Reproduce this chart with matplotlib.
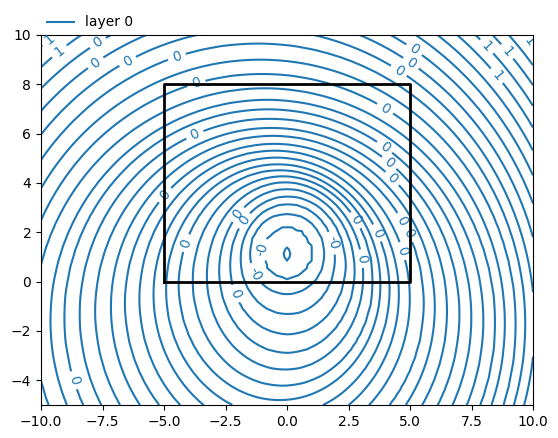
import numpy as np
import matplotlib
matplotlib.use('Agg')
import matplotlib.pyplot as plt

# position of the well (centre of the contour rings)
well_x = 0.0
well_y = 1.13

# distance from the well to each contour line
# along four directions. index 0 is the small loop at the well itself
radii_up = [0.26, 1.10, 1.64, 2.02, 2.33, 2.63, 2.90, 3.14, 3.38, 3.61, 3.88,
            4.16, 4.43, 4.76, 5.07, 5.44, 5.82, 6.20, 6.66, 7.24, 7.81, 8.46]
radii_down = [0.28, 1.03, 1.64, 2.46, 3.27, 4.02, 4.70, 5.35, 5.92]
radii_right = [0.12, 1.07, 1.54, 1.95, 2.36, 2.70, 3.01, 3.37, 3.64, 3.98, 4.32,
               4.73, 5.27, 5.68, 6.15, 6.63, 7.10, 7.57, 8.05, 8.46, 8.93, 9.34, 9.74]
radii_left = [0.12, 1.03, 1.54, 1.88, 2.29, 2.70, 3.17, 3.71, 4.25, 4.73, 5.20,
              5.74, 6.29, 6.83, 7.44, 8.05, 8.66, 9.20, 9.88]

# head value of each contour line
nlev = 36
dlev = 0.025
levels = np.round(-0.1 + dlev * np.arange(nlev), 3) + 0.0

# where the contour labels sit
label_x = [-9.63, -9.23, -7.68, -7.80, -6.46, -4.47, -3.66, -3.82, -4.84, -4.15,
           -2.03, -1.63, -0.98, -1.22, -2.32, -8.94, 5.24, 8.05, 9.11, 9.80,
           5.04, 4.43, 8.46, 4.02, 4.02, 4.23, 4.39, 2.89, 4.84, 3.58, 4.76,
           1.67, 4.72, 3.21]
label_y = [9.80, 9.31, 9.67, 8.90, 8.90, 9.10, 7.97, 6.13, 3.41, 1.58,
           2.76, 2.39, 1.29, 0.36, -0.58, -4.08, 9.51, 9.47, 9.47, 9.72,
           8.86, 8.37, 8.29, 7.07, 5.52, 4.91, 4.30, 2.55, 2.55, 1.94, 1.86,
           1.53, 1.25, 0.96]

# outline of the inhomogeneity
box_x = [-5, 5, 5, -5, -5]
box_y = [0, 0, 8, 8, 0]


def extend(r):
    # carry a profile on past the edge of the plot with its last spacing
    r = np.asarray(r, float)
    step = np.mean(np.diff(r[-4:]))
    return np.concatenate([r, r[-1] + step * np.arange(1, nlev - len(r) + 1)])


ru, rd, rr, rl = extend(radii_up), extend(radii_down), extend(radii_right), extend(radii_left)

# every contour is taken as an ellipse through its four measured points
cx = (rr - rl) / 2
cy = (ru - rd) / 2
ah = (rr + rl) / 2
bv = (ru + rd) / 2
det = ah ** 2 * bv ** 2 - cy ** 2 * cx ** 2
A = (bv ** 2 - cy ** 2) / det
B = (ah ** 2 - cx ** 2) / det

# evaluation grid over the plot window
x = np.linspace(-10, 10, 101)
y = np.linspace(-5, 10, 101)
X, Y = np.meshgrid(x, y)
dx = (X - well_x)[..., None] - cx
dy = (Y - well_y)[..., None] - cy
rho = np.sqrt(A * dx ** 2 + B * dy ** 2)

# fractional contour number of every grid point
i = (rho > 1).sum(-1)
lo = np.clip(i - 1, 0, nlev - 2)
p0 = np.take_along_axis(rho, lo[..., None], -1)[..., 0]
p1 = np.take_along_axis(rho, (lo + 1)[..., None], -1)[..., 0]
kf = lo + (p0 - 1) / (p0 - p1)
kf = np.where(i == 0, rho[..., 0] - 1, kf)
head = levels[0] + dlev * kf

fig = plt.figure(figsize=(5.58, 4.38), dpi=100)
ax = fig.add_axes([41 / 558, 33 / 438, 492 / 558, 370 / 438])
ax.set_xlim(-10, 10)
ax.set_ylim(-5, 10)

cs = ax.contour(X, Y, head, levels=levels, colors='C0', linewidths=1.5,
                linestyles='solid')
ax.clabel(cs, fmt='%1.0f', manual=list(zip(label_x, label_y)))
ax.plot(box_x, box_y, color='k', lw=2, zorder=5)
ax.plot([], [], color='C0', label='layer 0')

ax.legend(loc='lower left', bbox_to_anchor=(0, 1), borderaxespad=0, frameon=False)

fig.savefig('out.png', dpi=100)
